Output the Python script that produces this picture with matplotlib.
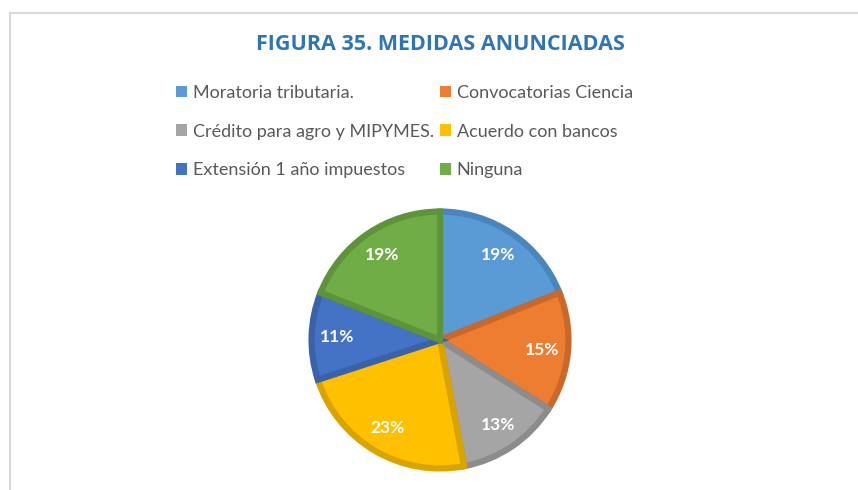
import matplotlib.pyplot as plt
from matplotlib.patches import Patch
from matplotlib.lines import Line2D

# datos de la figura
categorias = ['Moratoria tributaria.', 'Convocatorias Ciencia',
              'Crédito para agro y MIPYMES.', 'Acuerdo con bancos',
              'Extensión 1 año impuestos', 'Ninguna']
porcentajes = [19, 15, 13, 23, 11, 19]
colores = ['#5B9BD5', '#ED7D31', '#A5A5A5', '#FFC000', '#4472C4', '#70AD47']
bordes = ['#4A86BE', '#C9682A', '#8C8C8C', '#D9A300', '#3A62AA', '#5E9439']

W, H = 858, 490
fig = plt.figure(figsize=(W / 100, H / 100), dpi=100)
fig.patch.set_facecolor('white')

# marco gris claro del grafico
fig.add_artist(Line2D([10 / W, 10 / W], [0, 1 - 13 / H], color='#D9D9D9', lw=1.5))
fig.add_artist(Line2D([10 / W, 1], [1 - 13 / H, 1 - 13 / H], color='#D9D9D9', lw=1.5))

# pastel
r = 131
cx, cy = 440, 340
ax = fig.add_axes([(cx - r) / W, 1 - (cy + r) / H, 2 * r / W, 2 * r / H])
wedges, textos = ax.pie(porcentajes, colors=colores, startangle=90,
                        counterclock=False, radius=1.0, labeldistance=0.8,
                        labels=[f'{p}%' for p in porcentajes],
                        wedgeprops=dict(linewidth=0))
for w, b in zip(wedges, bordes):
    w.set_edgecolor(b)
    w.set_linewidth(4.5)
    w.set_joinstyle('miter')
for t in textos:
    t.set_color('white')
    t.set_fontweight('bold')
    t.set_fontsize(12.5)
    t.set_family(['Lato', 'DejaVu Sans'])
    t.set_ha('center')
    t.set_va('center')
ax.set_xlim(-1.02, 1.02)
ax.set_ylim(-1.02, 1.02)
ax.set_aspect('equal')
ax.axis('off')

fig.text(440 / W, 1 - 45 / H, 'FIGURA 35. MEDIDAS ANUNCIADAS', ha='center',
         va='center', color='#2E75B6', fontsize=15.5, fontweight='bold',
         family=['Open Sans', 'DejaVu Sans'])

# leyenda en dos columnas
orden = [0, 2, 4, 1, 3, 5]
handles = [Patch(facecolor=colores[i], edgecolor='none') for i in orden]
etiquetas = [categorias[i] for i in orden]
leg = fig.legend(handles, etiquetas, ncol=2, loc='upper left',
                 bbox_to_anchor=(176 / W, 1 - 85 / H), frameon=False,
                 labelcolor='#595959', handlelength=0.6,
                 handleheight=0.6, handletextpad=0.35, columnspacing=0.3,
                 labelspacing=1.25, borderpad=0, borderaxespad=0,
                 prop={'family': ['Lato', 'DejaVu Sans'], 'size': 13})

fig.savefig('out.png', dpi=100, facecolor='white')
